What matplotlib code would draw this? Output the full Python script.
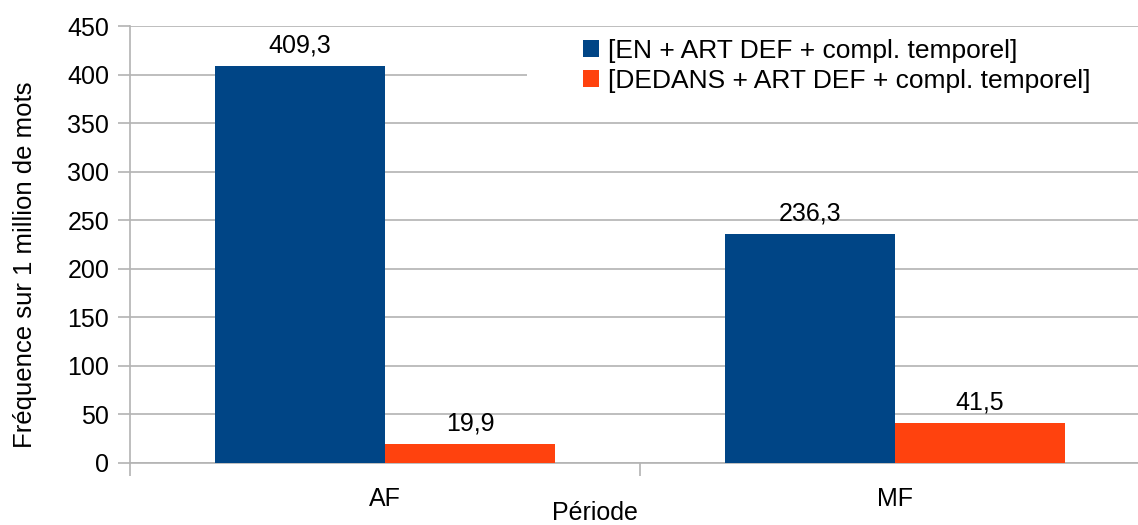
import matplotlib.pyplot as plt
from matplotlib.patches import Rectangle
import numpy as np

plt.rcParams['font.family'] = ['Liberation Sans', 'DejaVu Sans']

periodes = ['AF', 'MF']
series_noms = ['[EN + ART DEF + compl. temporel]',
               '[DEDANS + ART DEF + compl. temporel]']
en_vals = [409.3, 236.3]
dedans_vals = [19.9, 41.5]
couleurs = ['#004586', '#ff420e']

fig = plt.figure(figsize=(11.38, 5.25), dpi=100)
ax = fig.add_axes([130/1138, 62/525, 1020/1138, 437/525])

x = np.arange(len(periodes))
w = 0.333
b1 = ax.bar(x - w/2, en_vals, w, color=couleurs[0], label=series_noms[0], zorder=3)
b2 = ax.bar(x + w/2, dedans_vals, w, color=couleurs[1], label=series_noms[1], zorder=3)

for bars in (b1, b2):
    for r in bars:
        v = r.get_height()
        ax.annotate(('%.1f' % v).replace('.', ','), (r.get_x() + r.get_width()/2, v),
                    xytext=(0, 6), textcoords='offset points', ha='center', va='bottom',
                    fontsize=18)

ax.set_xlim(-0.5, 1.5)
ax.set_ylim(0, 450)
ax.set_yticks(np.arange(0, 451, 50))
ax.set_xticks(x)
ax.set_xticklabels(periodes)
ax.set_xticks([-0.5, 0.5, 1.5], minor=True)
ax.tick_params(axis='x', which='major', length=0, pad=17, labelsize=18)
ax.tick_params(axis='x', which='minor', length=9, color='#b3b3b3', width=1.2)
ax.tick_params(axis='y', length=9, color='#b3b3b3', width=1.2, pad=6, labelsize=18)
ax.grid(axis='y', color='#b3b3b3', linewidth=1.2, zorder=0)
for s in ['top', 'right']:
    ax.spines[s].set_visible(False)
for s in ['left', 'bottom']:
    ax.spines[s].set_color('#b3b3b3')
    ax.spines[s].set_linewidth(1.2)

# fond blanc de la légende (masque la grille)
ax.add_patch(Rectangle((527/1138, 1 - 118/525), 0.6, 88/525, transform=fig.transFigure,
                       facecolor='white', edgecolor='none', zorder=2))

leg = ax.legend(loc='upper left', bbox_to_anchor=(583/1138, 1 - 39/525),
                bbox_transform=fig.transFigure, frameon=False, fontsize=19,
                handlelength=0.6, handleheight=0.6, handletextpad=0.35,
                labelspacing=0.22, borderpad=0, borderaxespad=0)
leg.set_zorder(5)

fig.text(25/1138, 1 - 265/525, 'Fréquence sur 1 million de mots', rotation=90,
         ha='center', va='center', fontsize=18.5)
fig.text(595/1138, 1 - 513/525, 'Période', ha='center', va='center', fontsize=18)

fig.savefig('out.png', dpi=100)
